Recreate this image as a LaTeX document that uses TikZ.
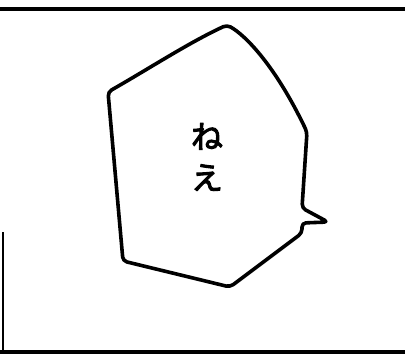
\documentclass[tikz,border=0pt]{standalone}
\usepackage{fontspec}
\newfontfamily\jpfont[FakeBold=3]{Noto Sans CJK JP}
\begin{document}
\begin{tikzpicture}[
  x = 1pt, y = -1pt,
  line join = round,
  bubble/.style={line width=3.6pt, rounded corners=4pt},
  frame/.style={line width=4.5pt}]
\useasboundingbox (0,0) rectangle (405,354);
% panel borders
\draw[frame] (0,9) -- (405,9);
\draw[line width=3.5pt] (0,352) -- (405,352);
\draw[line width=2.5pt] (3,232) -- (3,354);
% speech bubble
\draw[bubble] (108,92) .. controls (150,68) and (190,42) .. (227,25)
  .. controls (245,35) and (275,65) .. (307,132)
  -- (302,208) -- (328,222) -- (302,223) -- (302,233)
  -- (230,287) -- (123,261) -- cycle;
\node[font=\jpfont\fontsize{32}{41}\selectfont, align=center] (say) at (207,157) {ね\\え};
\end{tikzpicture}
\end{document}
